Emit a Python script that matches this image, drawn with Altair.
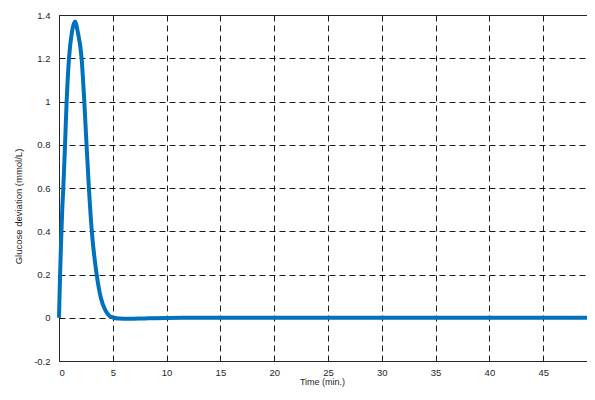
import altair as alt
import pandas as pd

# Data
time_min = [0, 0.1, 0.2, 0.3, 0.4, 0.56, 0.71, 0.93, 1.2, 1.48, 1.75, 2.1, 2.35, 2.56,
            2.78, 3.05, 3.5, 3.9, 4.3, 4.7, 5.1, 5.6, 6.5, 8, 10, 15, 20, 30, 40, 50]
glucose_dev = [0, 0.2, 0.36, 0.5, 0.6, 0.8, 1.0, 1.2, 1.32, 1.37, 1.32, 1.2, 1.0, 0.8,
               0.6, 0.4, 0.2, 0.09, 0.035, 0.008, 0.0, -0.004, -0.005, -0.003, -0.001,
               0, 0, 0, 0, 0]
x_ticks = [0, 5, 10, 15, 20, 25, 30, 35, 40, 45, 50]
y_ticks = [-0.2, 0, 0.2, 0.4, 0.6, 0.8, 1, 1.2, 1.4]

df = pd.DataFrame({"t": time_min, "g": glucose_dev})

FONT = "Liberation Sans"
TXT = "#262626"

x_scale = alt.Scale(domain=[0, 50], nice=False, zero=False)
y_scale = alt.Scale(domain=[-0.2, 1.4], nice=False, zero=False)

base = alt.Chart(df)

line = base.mark_line(color="#0072BD", strokeWidth=4, interpolate="monotone").encode(
    x=alt.X("t:Q", scale=x_scale,
            axis=alt.Axis(values=x_ticks, format="d", title="Time (min.)",
                          ticks=False, labelPadding=6, grid=True,
                          gridColor="black", gridDash=[6, 4], gridWidth=0.9,
                          domainColor=TXT, domainWidth=1,
                          labelFont=FONT, labelFontSize=9.5, labelColor=TXT,
                          titleFont=FONT, titleFontSize=9, titleColor=TXT,
                          titleFontWeight="normal", titleX=263, titleY=20,
                          titleBaseline="middle")),
    y=alt.Y("g:Q", scale=y_scale,
            axis=alt.Axis(values=y_ticks, labelExpr="datum.value + ''",
                          title="Glucose deviation (mmol/L)",
                          ticks=False, labelPadding=9, grid=True,
                          gridColor="black", gridDash=[6, 4], gridWidth=0.9,
                          domainColor=TXT, domainWidth=1,
                          labelFont=FONT, labelFontSize=9.5, labelColor=TXT,
                          titleFont=FONT, titleFontSize=9.5, titleColor=TXT,
                          titleFontWeight="normal", titleX=-41, titleY=191,
                          titleBaseline="middle", titleAlign="center")),
)

top_axis = base.mark_line(opacity=0).encode(
    x=alt.X("t:Q", scale=x_scale,
            axis=alt.Axis(orient="top", labels=False, ticks=False, grid=False,
                          title=None, domainColor=TXT, domainWidth=1)),
    y=alt.Y("g:Q", scale=y_scale),
)

chart = alt.layer(line, top_axis).resolve_axis(x="independent").properties(
    width=538, height=346,
    autosize=alt.AutoSizeParams(type="none"),
    padding={"left": 51, "top": 7, "right": -10, "bottom": 27},
).configure_view(stroke=None).configure(background="white")

chart.save("out.html", embed_options={"renderer": "svg", "actions": False})
